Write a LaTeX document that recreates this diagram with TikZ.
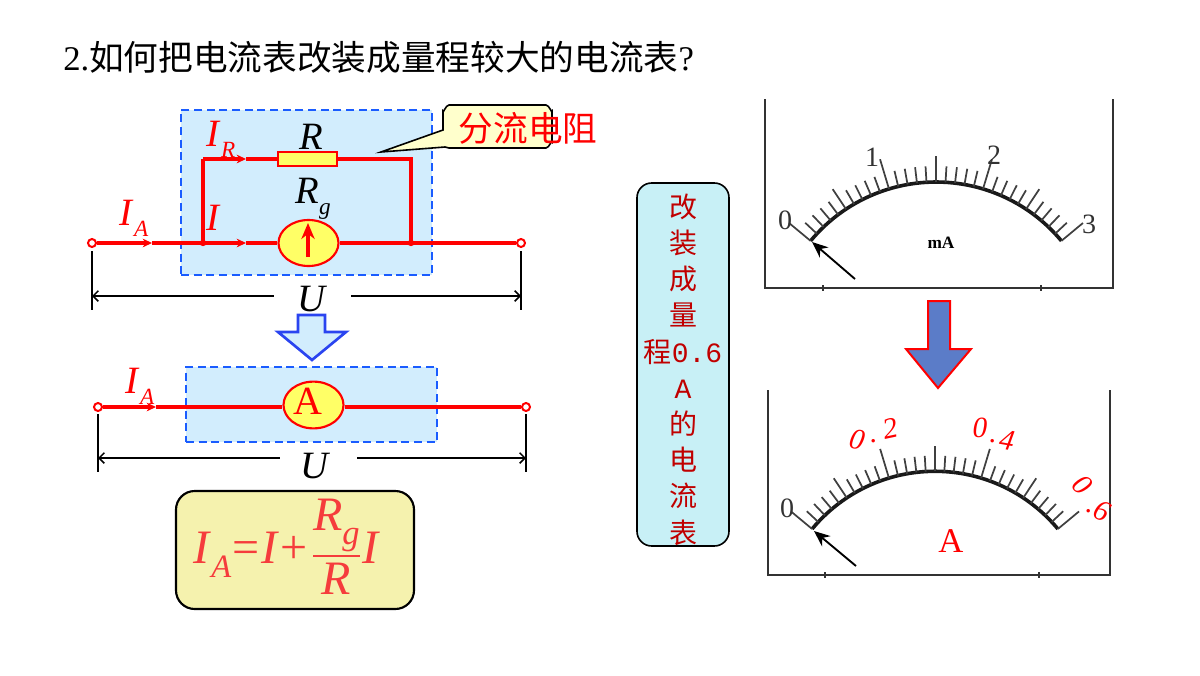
\documentclass[tikz,border=0pt]{standalone}
\usepackage{amsmath}
\usepackage{fontspec}
\setmainfont{Liberation Serif}
\newfontfamily\cjk{Noto Sans CJK SC}
\newfontfamily\monofnt{Liberation Mono}
\usetikzlibrary{arrows.meta, positioning, shapes.geometric}

\definecolor{wirered}{HTML}{FF0000}
\definecolor{panelblue}{HTML}{D2EDFD}
\definecolor{dashblue}{HTML}{1A5CFF}
\definecolor{partyellow}{HTML}{FFFF66}
\definecolor{tagyellow}{HTML}{FFFFCC}
\definecolor{sumyellow}{HTML}{F5F2AE}
\definecolor{sumred}{HTML}{F53C3C}
\definecolor{sidecyan}{HTML}{C8F0F6}
\definecolor{sidered}{HTML}{C00000}
\definecolor{bigblue}{HTML}{5B7CC8}
\definecolor{framegray}{HTML}{333333}
\definecolor{hollowblue}{HTML}{2A44F0}

\newcommand{\pxfont}[1]{\fontsize{#1}{#1}\selectfont}
\newcommand{\quant}[3][.6]{\textit{#2}\raisebox{-.28em}{\scalebox{#1}{\textit{#3}}}}

% one dial: arc, thirty divisions and their ticks
\newcommand{\dial}{
    \draw[line width=2.7pt, black!90] (-140.3:163) arc[start angle=-140.3, end angle=-39.7, radius=163];
    \foreach \i in {0,...,30} {
        \pgfmathsetmacro{\ang}{-140.3+\i*100.6/30}
        \pgfmathsetmacro{\len}{(\i==0||\i==30)?28:((\i==10||\i==20)?31:(\i==15?26:(mod(\i,5)==0?24:16)))}
        \draw[line width=1.3pt, black!75] (\ang:163) -- (\ang:163+\len);
    }
}

\begin{document}
\begin{tikzpicture}[
    x=0.75pt, y=-0.75pt,
    wire/.style={draw=wirered, line width=2.6pt},
    flow/.style={wire, -{Stealth[length=7pt, width=6.5pt]}},
    needle/.style={wire, -{Stealth[length=12pt, width=10pt]}},
    terminal/.style={circle, draw=wirered, fill=white, line width=1.5pt, minimum size=6pt, inner sep=0pt},
    panel/.style={rectangle, draw=dashblue, fill=panelblue, line width=1.7pt,
        dash pattern=on 6pt off 3.5pt, minimum width=188.25pt},
    part/.style={draw=wirered, fill=partyellow, line width=1.6pt, inner sep=0pt},
    gauge/.style={part, ellipse, minimum width=45pt, minimum height=34.5pt},
    redlabel/.style={text=wirered, font=\pxfont{29}, inner sep=0pt},
    blacklabel/.style={text=black, font=\pxfont{29}, inner sep=0pt},
    span/.style={draw=black, line width=1.1pt},
    spanend/.style={draw=black, line width=1.7pt},
    dialtext/.style={text=black!80, font=\pxfont{21}, inner sep=0pt},
    dialred/.style={text=wirered, font=\pxfont{22}\itshape, inner sep=0pt},
    framing/.style={draw=framegray, line width=1.6pt}]

    \useasboundingbox (0,0) rectangle (1200,675);

    \node[anchor=west, inner sep=0pt, font=\pxfont{26}] (title) at (63,57)
        {2.{\cjk 如何把电流表改装成量程较大的电流表}?};

    % upper circuit
    \node[panel, minimum height=123.75pt] (shunt_box) at (306.5,192.5) {};

    \node[terminal] (t_left) at (92,243) {};
    \node[terminal] (t_right) at (521,243) {};
    \node[part, rectangle, minimum width=44.25pt, minimum height=10.5pt] (res) at (307.5,159) {};
    \node[gauge] (galv) at (308.5,243) {};

    \coordinate (j_left) at (203,243);
    \coordinate (j_right) at (411,243);
    \coordinate (c_left) at (203,159);
    \coordinate (c_right) at (411,159);
    \coordinate (a_ia) at (152,243);
    \coordinate (a_i) at (246,243);
    \coordinate (a_ir) at (246,159);
    \coordinate (g_bot) at (308,257);
    \coordinate (g_top) at (308,223);

    \draw[flow] (t_left) -- (a_ia);
    \draw[wire] (a_ia) -- (j_left);
    \draw[flow] (j_left) -- (a_i);
    \draw[wire] (a_i) -- (galv);
    \draw[wire] (galv) -- (t_right);
    \draw[wire] (j_left) -- (c_left);
    \draw[flow] (c_left) -- (a_ir);
    \draw[wire] (a_ir) -- (res);
    \draw[wire, line join=miter] (res) -- (c_right) -- (j_right);
    \draw[needle] (g_bot) -- (g_top);
    \fill[wirered] (j_left) circle (2.4pt);
    \fill[wirered] (j_right) circle (2.4pt);

    \node[redlabel] (l_ia) at (134,218) {\quant{I}{A}};
    \node[redlabel] (l_i) at (214,218) {\textit{I}};
    \node[redlabel] (l_ir) at (221,139) {\quant{I}{R}};
    \node[blacklabel] (l_r) at (311,137) {\textit{R}};
    \node[blacklabel] (l_rg) at (313,199) {\quant{R}{g}};

    % callout
    \coordinate (tag_tip) at (381,152);
    \draw[draw=black, fill=tagyellow, line width=1.2pt]
        (443,130) -- (443,111) to[out=-90, in=180] (449,105) -- (546,105) to[out=0, in=-90] (552,111)
        -- (552,142) to[out=90, in=0] (546,148) -- (449,148) -- (445,147) -- (tag_tip) -- cycle;
    \node[anchor=center, text=wirered, inner sep=0pt, font=\pxfont{26}\cjk] (tag) at (528,128) {分流电阻};

    % span of the upper circuit
    \node[blacklabel] (u_top) at (313,299) {\textit{U}};
    \coordinate (s1_a) at (92,251);
    \coordinate (s1_b) at (92,310);
    \coordinate (s1_c) at (521,251);
    \coordinate (s1_d) at (521,310);
    \coordinate (s1_l) at (92,296);
    \coordinate (s1_r) at (521,296);
    \coordinate (s1_m) at (274,296);
    \coordinate (s1_n) at (351,296);
    \draw[spanend] (s1_a) -- (s1_b);
    \draw[spanend] (s1_c) -- (s1_d);
    \draw[span, {Straight Barb[length=4pt]}-] (s1_l) -- (s1_m);
    \draw[span, -{Straight Barb[length=4pt]}] (s1_n) -- (s1_r);

    % blue arrow
    \draw[draw=hollowblue, fill=panelblue, line width=2pt, line join=miter]
        (298,315) -- (325,315) -- (325,332) -- (346,332) -- (312,360) -- (278,332) -- (298,332) -- cycle;

    % lower circuit
    \node[panel, minimum height=56.25pt] (amm_box) at (311.5,404.5) {};

    \node[terminal] (t2_left) at (98,407) {};
    \node[terminal] (t2_right) at (526,407) {};
    \node[gauge, text=wirered, font=\pxfont{30}] (amm) at (313.5,405) {\raisebox{5pt}{\hspace{-8pt}A}};
    \coordinate (a2_ia) at (156,407);

    \draw[flow] (t2_left) -- (a2_ia);
    \draw[wire] (a2_ia) -- (a2_ia -| amm.west);
    \draw[wire] (t2_right -| amm.east) -- (t2_right);

    \node[redlabel] (l2_ia) at (140,386) {\quant{I}{A}};

    \node[blacklabel] (u_bot) at (316,466) {\textit{U}};
    \coordinate (s2_a) at (98,414);
    \coordinate (s2_b) at (98,472);
    \coordinate (s2_c) at (526,414);
    \coordinate (s2_d) at (526,472);
    \coordinate (s2_l) at (98,458);
    \coordinate (s2_r) at (526,458);
    \coordinate (s2_m) at (280,458);
    \coordinate (s2_n) at (357,458);
    \draw[spanend] (s2_a) -- (s2_b);
    \draw[spanend] (s2_c) -- (s2_d);
    \draw[span, {Straight Barb[length=4pt]}-] (s2_l) -- (s2_m);
    \draw[span, -{Straight Barb[length=4pt]}] (s2_n) -- (s2_r);

    % formula
    \node[rectangle, rounded corners=14pt, draw=black, fill=sumyellow, line width=1.6pt,
          minimum width=178.5pt, minimum height=88.5pt] (sum_box) at (295,550) {};
    \node[text=sumred, inner sep=0pt, font=\pxfont{36}] (sum) at (287,552)
        {\quant[.68]{I}{A}\kern1pt=\kern1pt\textit{I}\kern1pt+\kern3pt$\genfrac{}{}{1.5pt}{0}{\raisebox{8pt}[\height][0pt]{\quant[.72]{R}{g}}}{\textit{R}}$\kern1pt\textit{I}};

    % side note
    \node[rectangle, rounded corners=11pt, draw=black, fill=sidecyan, line width=1.2pt,
          minimum width=69pt, minimum height=272.25pt] (side) at (683,364.5) {};
    \node[align=center, text=sidered, inner sep=0pt, font=\fontsize{21}{27.15}\selectfont\cjk] (side_text) at (683,369.5)
        {改\\装\\成\\量\\程{\monofnt 0.6}\\{\monofnt A}\\的\\电\\流\\表};

    % upper dial
    \draw[framing] (765,99) -- (765,288) -- (1113,288) -- (1113,99);
    \draw[framing] (823,285) -- (823,291);
    \draw[framing] (1041,285) -- (1041,291);
    \begin{scope}[shift={(936,345)}]
        \dial
    \end{scope}
    \coordinate (needle1_a) at (855,279);
    \coordinate (needle1_b) at (812,242);
    \draw[line width=1.4pt, -{Stealth[length=12pt, width=10pt]}] (needle1_a) -- (needle1_b);
    \node[dialtext] (n1_0) at (785,220) {0};
    \node[dialtext] (n1_1) at (872,157) {1};
    \node[dialtext] (n1_2) at (994,155) {2};
    \node[dialtext] (n1_3) at (1089,224) {3};
    \node[inner sep=0pt, font=\pxfont{13}\bfseries] (unit1) at (941,243) {mA};

    % big arrow
    \draw[draw=wirered, fill=bigblue, line width=1.5pt]
        (928,301) -- (950,301) -- (950,349) -- (971,349) -- (938,388) -- (906,349) -- (928,349) -- cycle;

    % lower dial
    \draw[framing] (768,390) -- (768,575) -- (1110,575) -- (1110,390);
    \draw[framing] (825,572) -- (825,578);
    \draw[framing] (1039,572) -- (1039,578);
    \begin{scope}[shift={(935,631)}, scale=.98]
        \dial
    \end{scope}
    \coordinate (needle2_a) at (856,566);
    \coordinate (needle2_b) at (814,531);
    \draw[line width=1.4pt, -{Stealth[length=12pt, width=10pt]}] (needle2_a) -- (needle2_b);
    \node[dialtext] (n2_0) at (787,508) {0};
    \node[dialred, rotate=-12] (n2_a) at (857,440) {0};
    \node[dialred] (n2_b) at (874,441) {.};
    \node[dialred, rotate=12] (n2_c) at (890,428) {2};
    \node[dialred] (n2_d) at (980,428) {0};
    \node[dialred] (n2_e) at (993,441) {.};
    \node[dialred, rotate=-10] (n2_f) at (1007,440) {4};
    \node[dialred, rotate=-45] (n2_g) at (1082,485) {0};
    \node[dialred] (n2_h) at (1089,511) {.};
    \node[dialred, rotate=-25] (n2_i) at (1102,511) {6};
    \node[text=wirered, inner sep=0pt, font=\pxfont{26}] (unit2) at (951,541) {A};

\end{tikzpicture}
\end{document}
